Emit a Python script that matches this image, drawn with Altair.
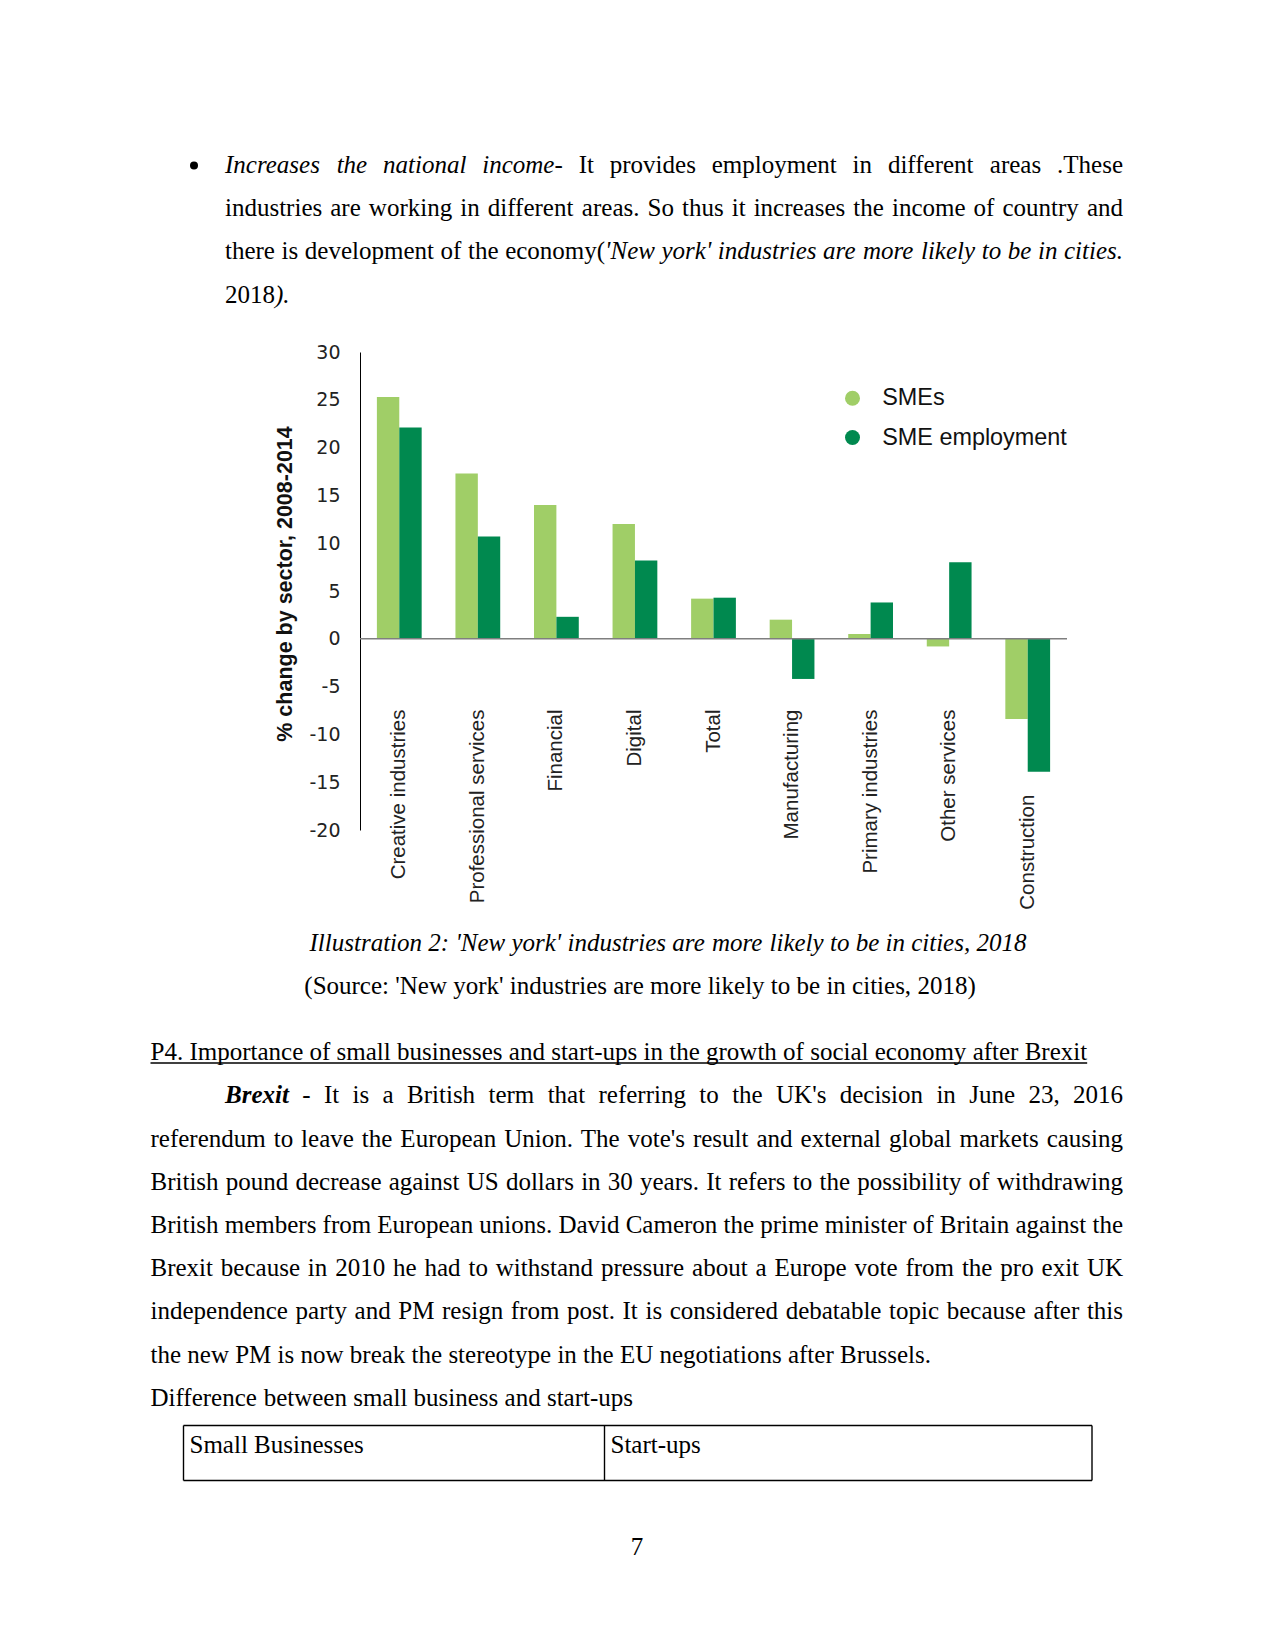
import altair as alt
import pandas as pd

# ---------------- chart data ----------------
categories = ["Creative industries", "Professional services", "Financial", "Digital", "Total",
              "Manufacturing", "Primary industries", "Other services", "Construction"]
smes = [25.3, 17.3, 14.0, 12.0, 4.2, 2.0, 0.5, -0.8, -8.4]
sme_employment = [22.1, 10.7, 2.3, 8.2, 4.3, -4.2, 3.8, 8.0, -13.9]
series_names = ["SMEs", "SME employment"]
series_colors = ["#A0CE67", "#00894F"]
y_ticks = [30, 25, 20, 15, 10, 5, 0, -5, -10, -15, -20]
y_title = "% change by sector, 2008-2014"

# ---------------- page layout (page pixel coordinates) ----------------
PAGE_MARGIN = 8
PLOT_LEFT, PLOT_TOP = 360.0, 352.0
PLOT_W, PLOT_H = 707, 478
SVG_W, SVG_H = 1259, 1635
FS = 25  # body font size

# Times / Liberation Serif advance widths (per 1000 em)
LOWER = "abcdefghijklmnopqrstuvwxyz"
UPPER = "ABCDEFGHIJKLMNOPQRSTUVWXYZ"
REG = dict(zip(LOWER, [444, 500, 444, 500, 444, 333, 500, 500, 278, 278, 500, 278, 778, 500, 500, 500, 500, 333, 389, 278, 500, 500, 722, 500, 500, 444]))
REG.update(zip(UPPER, [722, 667, 667, 722, 611, 556, 722, 722, 333, 389, 722, 611, 889, 722, 722, 556, 722, 667, 556, 611, 722, 722, 944, 722, 722, 611]))
REG.update({" ": 250, ".": 250, ",": 250, ":": 278, ";": 278, "-": 333, "(": 333, ")": 333, "'": 180, "%": 833})
REG.update({d: 500 for d in "0123456789"})
ITA = dict(zip(LOWER, [500, 500, 444, 500, 444, 278, 500, 500, 278, 278, 444, 278, 722, 500, 500, 500, 500, 389, 389, 278, 500, 444, 667, 444, 444, 389]))
ITA.update(zip(UPPER, [611, 611, 667, 722, 611, 611, 722, 722, 333, 444, 667, 556, 833, 667, 722, 611, 722, 611, 500, 556, 722, 611, 833, 611, 556, 556]))
ITA.update({" ": 250, ".": 250, ",": 250, ":": 333, ";": 333, "-": 333, "(": 333, ")": 333, "'": 214})
ITA.update({d: 500 for d in "0123456789"})
BI = dict(ITA)
BI.update({"B": 667, "r": 389, "e": 444, "x": 500, "i": 278, "t": 278})
TABLES = {"n": REG, "i": ITA, "bi": BI}


def measure(text, style):
    tbl = TABLES[style]
    return sum(tbl.get(ch, 500) for ch in text) * FS / 1000.0


def layout(segments, x0, base, x1=None, justify=False, center=None):
    words, cur = [], []
    for text, style in segments:
        parts = text.split(" ")
        for k, part in enumerate(parts):
            if k > 0 and cur:
                words.append(cur)
                cur = []
            if part:
                cur.append((part, style))
    if cur:
        words.append(cur)
    widths = [sum(measure(t, s) for t, s in w) for w in words]
    space = 250 * FS / 1000.0
    total = sum(widths) + space * (len(words) - 1)
    gap = space
    if justify and len(words) > 1:
        gap = (x1 - x0 - sum(widths)) / (len(words) - 1)
    if center is not None:
        x0 = center - total / 2
    rows, x = [], x0
    for w, wd in zip(words, widths):
        xx = x
        for t, s in w:
            rows.append(dict(text=t, px=xx - PLOT_LEFT, py=base - PLOT_TOP, style=s))
            xx += measure(t, s)
        x += wd + gap
    return rows, x0, x0 + total


L_IND, L_BODY, R_EDGE = 225.0, 150.5, 1123.0
LS = 43.2
rows = []
para1 = [
    ([("Increases the national income", "i"), ("- It provides employment in different areas .These", "n")], True),
    ([("industries are working in different areas. So thus it increases the income of country and", "n")], True),
    ([("there is development of the economy(", "n"), ("'New york' industries are more likely to be in cities.", "i")], True),
    ([("2018", "n"), (").", "i")], False),
]
for k, (segs, just) in enumerate(para1):
    r, _, _ = layout(segs, L_IND, 173 + k * LS, R_EDGE, just)
    rows += r

# caption + source
r, _, _ = layout([("Illustration 2: 'New york' industries are more likely to be in cities, 2018", "i")], 0, 950.5, center=668)
rows += r
r, _, _ = layout([("(Source: 'New york' industries are more likely to be in cities, 2018)", "n")], 0, 993.5, center=640)
rows += r

# heading
r, hx0, hx1 = layout([("P4. Importance of small businesses and start-ups in the growth of social economy after Brexit", "n")], L_BODY, 1059.5)
rows += r

# Brexit paragraph
para2 = [
    ([("Brexit", "bi"), (" - It is a British term that referring to the UK's decision in June 23, 2016", "n")], L_IND, True),
    ([("referendum to leave the European Union. The vote's result and external global markets causing", "n")], L_BODY, True),
    ([("British pound decrease against US dollars in 30 years. It refers to the possibility of withdrawing", "n")], L_BODY, True),
    ([("British members from European unions. David Cameron the prime minister of Britain against the", "n")], L_BODY, True),
    ([("Brexit because in 2010 he had to withstand pressure about a Europe vote from the pro exit UK", "n")], L_BODY, True),
    ([("independence party and PM resign from post. It is considered debatable topic because after this", "n")], L_BODY, True),
    ([("the new PM is now break the stereotype in the EU negotiations after Brussels.", "n")], L_BODY, False),
    ([("Difference between small business and start-ups", "n")], L_BODY, False),
]
for k, (segs, x0, just) in enumerate(para2):
    r, _, _ = layout(segs, x0, 1103.3 + k * LS, R_EDGE, just)
    rows += r

# table cells and page number
r, _, _ = layout([("Small Businesses", "n")], 189.5, 1453)
rows += r
r, _, _ = layout([("Start-ups", "n")], 610.5, 1453)
rows += r
r, _, _ = layout([("7", "n")], 0, 1555, center=637)
rows += r

words_df = pd.DataFrame(rows)
bullet_df = pd.DataFrame([dict(px=194 - PLOT_LEFT, py=165.5 - PLOT_TOP)])

# rules: heading underline + table borders (page coords)
T_TOP, T_BOT, T_L, T_M, T_R = 1425.5, 1480.5, 183.5, 604.5, 1092.0
rule_rows = [
    (hx0, 1063.0, hx1, 1063.0),
    (T_L, T_TOP, T_R, T_TOP),
    (T_L, T_BOT, T_R, T_BOT),
    (T_L, T_TOP, T_L, T_BOT),
    (T_M, T_TOP, T_M, T_BOT),
    (T_R, T_TOP, T_R, T_BOT),
]
rules_df = pd.DataFrame([dict(x=a - PLOT_LEFT, y=b - PLOT_TOP, x2=c - PLOT_LEFT, y2=d - PLOT_TOP) for a, b, c, d in rule_rows])

# ---------------- chart tables ----------------
bar_rows = []
for c, a, b in zip(categories, smes, sme_employment):
    bar_rows.append(dict(category=c, series=series_names[0], value=a))
    bar_rows.append(dict(category=c, series=series_names[1], value=b))
bar_df = pd.DataFrame(bar_rows)
label_df = pd.DataFrame(dict(
    category=categories,
    label_y=[min(-7.4, min(a, b) - 2.4) for a, b in zip(smes, sme_employment)],
))

x_enc = alt.X("category:N", sort=categories, axis=None,
              scale=alt.Scale(paddingInner=0.43, paddingOuter=0.215))
y_scale = alt.Scale(domain=[-20, 30], nice=False, zero=False)

bars = alt.Chart(bar_df).mark_bar().encode(
    x=x_enc,
    xOffset=alt.XOffset("series:N", sort=series_names, scale=alt.Scale(paddingInner=0, paddingOuter=0)),
    y=alt.Y("value:Q", scale=y_scale, axis=alt.Axis(
        values=y_ticks, labelExpr="'' + datum.value", labelFont="DejaVu Sans", labelFontSize=19,
        labelColor="#222222", labelPadding=20, ticks=False, tickSize=0, grid=False,
        domainColor="#000000", domainWidth=1,
        title=y_title, titleFont="Liberation Sans", titleFontSize=21.5, titleFontWeight="bold",
        titleColor="#111111", titleAngle=270, titleAlign="center", titleBaseline="alphabetic",
        titleX=-69, titleY=231.5)),
    color=alt.Color("series:N", sort=series_names,
                    scale=alt.Scale(domain=series_names, range=series_colors),
                    legend=alt.Legend(orient="none", legendX=480.8, legendY=34.5, title=None,
                                      symbolType="circle", symbolSize=225, symbolStrokeWidth=0,
                                      symbolOpacity=1, labelFont="Liberation Sans", labelFontSize=23.4,
                                      labelColor="#111111", labelOffset=18, labelLimit=400,
                                      rowPadding=14.3, padding=0)),
)

zero_rule = alt.Chart(pd.DataFrame({"v": [0]})).mark_rule(color="#7f7f7f", strokeWidth=1.6).encode(
    y=alt.Y("v:Q", scale=y_scale)
)

cat_labels = alt.Chart(label_df).mark_text(
    angle=270, align="right", baseline="middle",
    font="Liberation Sans", fontSize=20.5, color="#222222"
).encode(
    x=x_enc,
    y=alt.Y("label_y:Q", scale=y_scale),
    text="category:N",
)


def text_layer(style, **kw):
    return alt.Chart(words_df).transform_filter(alt.datum.style == style).mark_text(
        align="left", baseline="alphabetic", font="Liberation Serif", fontSize=FS, color="#000000", **kw
    ).encode(
        x=alt.X("px:Q", scale=None, axis=None),
        y=alt.Y("py:Q", scale=None, axis=None),
        text="text:N",
    )


bullet = alt.Chart(bullet_df).mark_circle(size=64, color="#000000", opacity=1).encode(
    x=alt.X("px:Q", scale=None, axis=None),
    y=alt.Y("py:Q", scale=None, axis=None),
)

doc_rules = alt.Chart(rules_df).mark_rule(color="#000000", strokeWidth=1.4).encode(
    x=alt.X("x:Q", scale=None, axis=None),
    y=alt.Y("y:Q", scale=None, axis=None),
    x2="x2:Q",
    y2="y2:Q",
)

chart = alt.layer(
    bars, zero_rule, cat_labels,
    text_layer("n"), text_layer("i", fontStyle="italic"),
    text_layer("bi", fontStyle="italic", fontWeight="bold"),
    bullet, doc_rules,
).properties(
    width=PLOT_W, height=PLOT_H,
    padding={"left": PLOT_LEFT - PAGE_MARGIN, "top": PLOT_TOP - PAGE_MARGIN,
             "right": SVG_W - PLOT_W - (PLOT_LEFT - PAGE_MARGIN),
             "bottom": SVG_H - PLOT_H - (PLOT_TOP - PAGE_MARGIN)},
    autosize=alt.AutoSizeParams(type="none"),
    background="white",
).configure_view(stroke=None)

chart.save("out.html", embed_options={"renderer": "svg", "actions": False})
